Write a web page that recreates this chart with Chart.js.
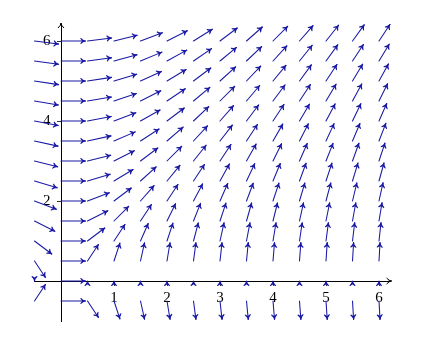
<!DOCTYPE html>
<html><head><meta charset="utf-8">
<script src="https://cdn.jsdelivr.net/npm/chart.js@4/dist/chart.umd.min.js"></script>
<style>html,body{margin:0;padding:0;background:#fff;} canvas{display:block}</style>
</head><body>
<canvas id="c" width="423" height="348"></canvas>
<script>
// grid of arrow tails
const xGrid = [-0.5, 0, 0.5, 1, 1.5, 2, 2.5, 3, 3.5, 4, 4.5, 5, 5.5, 6];
const yGrid = [6, 5.5, 5, 4.5, 4, 3.5, 3, 2.5, 2, 1.5, 1, 0.5, 0, -0.5];
// slope dy/dx read for each arrow (rows follow yGrid, columns follow xGrid)
// '^' / 'v' : zero-length arrow, head only, pointing up / down
const slopes = [
  [-0.17, 0, 0.17, 0.33, 0.5, 0.67, 0.83, 1, 1.17, 1.33, 1.5, 1.67, 1.83, 2],
  [-0.18, 0, 0.18, 0.36, 0.55, 0.73, 0.91, 1.09, 1.27, 1.45, 1.64, 1.82, 2, 2.18],
  [-0.2, 0, 0.2, 0.4, 0.6, 0.8, 1, 1.2, 1.4, 1.6, 1.8, 2, 2.2, 2.4],
  [-0.22, 0, 0.22, 0.44, 0.67, 0.89, 1.11, 1.33, 1.56, 1.78, 2, 2.22, 2.44, 2.67],
  [-0.25, 0, 0.25, 0.5, 0.75, 1, 1.25, 1.5, 1.75, 2, 2.25, 2.5, 2.75, 3],
  [-0.29, 0, 0.29, 0.57, 0.86, 1.14, 1.43, 1.71, 2, 2.29, 2.57, 2.86, 3.14, 3.43],
  [-0.33, 0, 0.33, 0.67, 1, 1.33, 1.67, 2, 2.33, 2.67, 3, 3.33, 3.67, 4],
  [-0.4, 0, 0.4, 0.8, 1.2, 1.6, 2, 2.4, 2.8, 3.2, 3.6, 4, 4.4, 4.8],
  [-0.5, 0, 0.5, 1, 1.5, 2, 2.5, 3, 3.5, 4, 4.5, 5, 5.5, 6],
  [-0.67, 0, 0.67, 1.33, 2, 2.67, 3.33, 4, 4.67, 5.33, 6, 6.67, 7.33, 8],
  [-1, 0, 1, 2, 3, 4, 5, 6, 7, 8, 9, 10, 11, 12],
  [-2, 0, 2, 4, 6, 8, 10, 12, 14, 16, 18, 20, 22, 24],
  ['v', 0, '^', '^', '^', '^', '^', '^', '^', '^', '^', '^', '^', '^'],
  [2, 0, -2, -4, -6, -8, -10, -12, -14, -16, -18, -20, -22, -24]
];
const xTicks = [1, 2, 3, 4, 5, 6];
const yTicks = [2, 4, 6];
const arrowLength = 0.46;

const ARROW_COLOR = 'rgb(25,25,165)';

function drawHead(ctx, tx, ty, ang, len, half, fill) {
  const c = Math.cos(ang), s = Math.sin(ang);
  ctx.beginPath();
  ctx.moveTo(tx - len * c + half * s, ty - len * s - half * c);
  ctx.quadraticCurveTo(tx - 0.45 * len * c, ty - 0.45 * len * s, tx, ty);
  ctx.quadraticCurveTo(tx - 0.45 * len * c, ty - 0.45 * len * s,
    tx - len * c - half * s, ty - len * s + half * c);
  if (fill) {
    ctx.lineTo(tx - 0.6 * len * c, ty - 0.6 * len * s);
    ctx.closePath();
    ctx.fill();
  }
  ctx.stroke();
}

const fieldPlugin = {
  id: 'field',
  afterDatasetsDraw(chart) {
    const ctx = chart.ctx, xs = chart.scales.x, ys = chart.scales.y;
    ctx.save();
    ctx.strokeStyle = ARROW_COLOR;
    ctx.fillStyle = ARROW_COLOR;
    ctx.lineWidth = 1.05;
    ctx.lineCap = 'round';
    ctx.lineJoin = 'round';
    yGrid.forEach((y, r) => {
      xGrid.forEach((x, c) => {
        const m = slopes[r][c];
        const px = xs.getPixelForValue(x), py = ys.getPixelForValue(y);
        if (m === '^' || m === 'v') {
          drawHead(ctx, px, py, m === '^' ? -Math.PI / 2 : Math.PI / 2, 4.5, 2.5, true);
          return;
        }
        const u = arrowLength / Math.sqrt(1 + m * m), v = m * u;
        const ex = xs.getPixelForValue(x + u), ey = ys.getPixelForValue(y + v);
        ctx.beginPath();
        ctx.moveTo(px, py);
        ctx.lineTo(ex, ey);
        ctx.stroke();
        drawHead(ctx, ex, ey, Math.atan2(ey - py, ex - px), 4.5, 2.5, true);
      });
    });
    ctx.restore();
  },
  afterDraw(chart) {
    const ctx = chart.ctx, xs = chart.scales.x, ys = chart.scales.y;
    const ca = chart.chartArea;
    const x0 = xs.getPixelForValue(0), y0 = ys.getPixelForValue(0);
    ctx.save();
    ctx.strokeStyle = '#000';
    ctx.lineWidth = 1;
    ctx.beginPath();
    ctx.moveTo(ca.right - 1, y0); ctx.lineTo(ca.right + 2, y0);
    ctx.moveTo(x0, ca.top + 1); ctx.lineTo(x0, ca.top - 2);
    ctx.stroke();
    drawHead(ctx, ca.right + 2, y0, 0, 5, 3, false);
    drawHead(ctx, x0, ca.top - 2, -Math.PI / 2, 5, 3, false);
    ctx.restore();
  }
};

const points = [];
yGrid.forEach(y => xGrid.forEach(x => points.push({x, y})));

new Chart(document.getElementById('c'), {
  type: 'scatter',
  data: { datasets: [{ data: points, pointRadius: 0, showLine: false }] },
  options: {
    responsive: false,
    animation: false,
    events: [],
    layout: { padding: { left: 34.5, right: 33.4, top: 25, bottom: 27 } },
    plugins: { legend: { display: false }, tooltip: { enabled: false } },
    scales: {
      x: {
        type: 'linear', min: -0.5, max: 6.2, position: { y: 0 }, z: 1,
        afterBuildTicks: s => { s.ticks = xTicks.map(v => ({ value: v })); },
        grid: { display: true, drawOnChartArea: false, drawTicks: true, tickLength: 4, color: '#000', tickWidth: 0.8 },
        border: { display: true, color: '#000', width: 1 },
        ticks: { color: '#000', padding: 4, maxRotation: 0, autoSkip: false,
          font: { family: 'Liberation Serif', size: 15 }, callback: v => String(v) }
      },
      y: {
        type: 'linear', min: -1, max: 6.4, position: { x: 0 }, z: 1,
        afterBuildTicks: s => { s.ticks = yTicks.map(v => ({ value: v })); },
        grid: { display: true, drawOnChartArea: false, drawTicks: true, tickLength: 4, color: '#000', tickWidth: 0.8 },
        border: { display: true, color: '#000', width: 1 },
        ticks: { color: '#000', padding: 6, autoSkip: false,
          font: { family: 'Liberation Serif', size: 15 }, callback: v => String(v) + '\u2002\u2009' }
      }
    }
  },
  plugins: [fieldPlugin]
});
</script>
</body></html>
